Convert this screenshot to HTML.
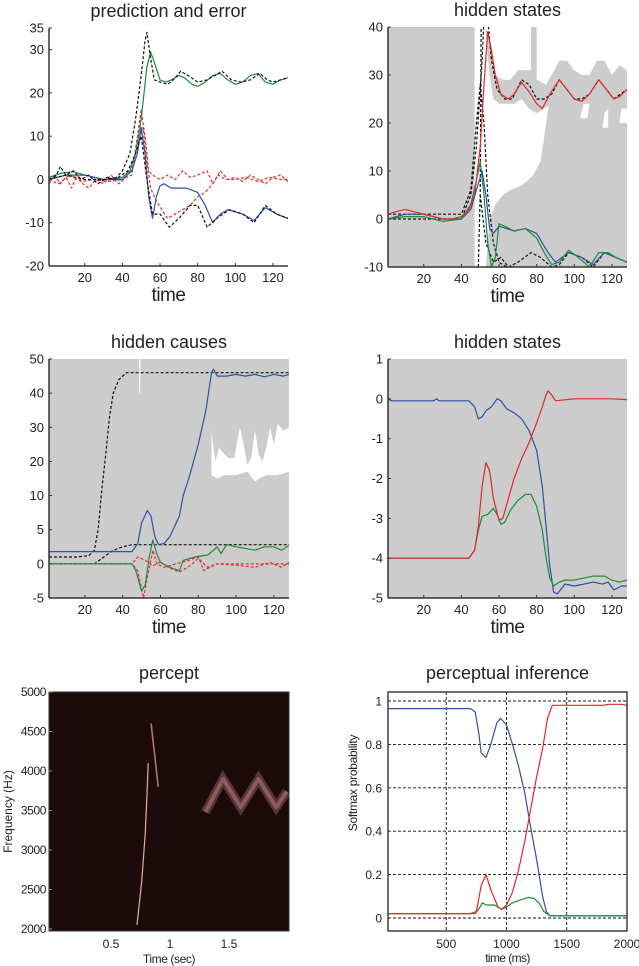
<!DOCTYPE html>
<html><head><meta charset="utf-8"><style>
body{margin:0;background:#fff;}
svg{display:block;font-family:"Liberation Sans",Arial,sans-serif;}
</style></head><body>
<svg id="fig" width="639" height="966" viewBox="0 0 639 966" xmlns="http://www.w3.org/2000/svg"></svg>
<script>
// ---------- Panel 1: prediction and error ----------
const p1Ticks=[-20,-10,0,10,20,30,35];
const p1Green=[[1,0.5],[8,1.5],[14,1.8],[20,1],[25,0.5],[30,0],[36,0],[40,0.5],[44,2],[47,6],[50,14],[52,22],[53,26],[55,29.5],[57,27],[60,23],[63,22.5],[66,23],[70,24],[73,23.5],[77,22],[80,21.5],[84,22.5],[88,24],[92,24.5],[96,23],[100,22],[104,22.5],[108,24],[112,24.5],[116,22.5],[120,22],[124,23],[128,23.5]];
const p1Blue=[[1,0],[10,1],[20,1],[30,0],[40,0],[45,2],[48,6],[50,12],[52,6],[54,-4],[56,-9],[58,-4],[60,-1.5],[62,-1],[66,-2],[74,-2],[80,-3],[84,-6],[88,-10],[92,-8],[96,-7],[100,-7.5],[104,-8],[110,-9.5],[116,-6.5],[122,-8],[128,-9]];
const p1BlackA=[[1,0],[5,1],[7,3],[10,1],[14,2],[18,0],[22,1],[27,-1],[32,0.5],[36,0],[40,2],[44,6],[47,14],[50,24],[52,32],[53,34],[55,28],[57,23],[60,22.5],[64,22],[67,23],[71,25],[75,24],[80,22.5],[85,23],[89,24],[93,25],[98,23],[103,22.5],[108,23],[113,24.5],[117,23],[120,22.5],[124,23],[128,23.5]];
const p1BlackB=[[1,0],[10,1],[20,0],[30,0],[38,0.5],[43,2],[47,6],[50,10],[53,0],[56,-8],[60,-8],[65,-11],[70,-9],[76,-6],[80,-6],[85,-11],[90,-9],[97,-7],[104,-8],[110,-10],[116,-6],[122,-8],[128,-9]];
const p1RedA=[[1,-1],[4,1],[7,-1],[10,0.5],[13,-2],[16,1],[19,-1],[22,-2],[26,0],[30,-1],[34,1],[38,-1],[42,0.5],[45,1],[48,10],[50,16],[52,10],[54,2],[56,1],[60,0],[64,1],[68,0],[72,2],[76,0.5],[80,1],[85,2],[88,-1],[92,2],[96,0],[100,0.5],[104,-0.5],[108,1],[112,0],[116,-1],[120,0.5],[124,1],[128,-0.5]];
const p1RedB=[[1,0],[6,-1],[12,1],[18,-0.5],[25,0],[32,-0.5],[40,0],[45,2],[48,8],[51,12],[53,4],[55,-2],[58,-5],[61,-7],[64,-9],[68,-8],[72,-7],[76,-6],[80,-4],[84,-3],[88,-1],[91,1],[95,0],[100,0],[106,0.5],[112,-0.5],[118,0.5],[124,0],[128,0]];

// ---------- Panel 2: hidden states (top) ----------
const p2Ticks=[-10,0,10,20,30,40];
const p2Red=[[1,1],[5,1.5],[10,2],[15,1.5],[20,1],[25,0.5],[30,0],[35,0],[40,0.5],[44,2],[47,5],[50,15],[52,28],[54,39],[56,35],[58,30],[61,26],[65,25],[68,26],[72,28.5],[76,26.5],[80,24],[83,23],[87,26],[92,29],[96,27],[100,25],[104,24.5],[108,26],[113,29],[117,27],[121,25],[124,25.5],[128,27]];
const p2Blue=[[1,0],[10,1],[20,1],[30,0],[40,0],[45,2],[48,6],[51,10],[53,5],[55,-2],[57,-3],[60,-1.5],[64,-2],[68,-2.5],[74,-2],[80,-3],[86,-7],[90,-9],[97,-7],[104,-8],[110,-9.5],[116,-7],[122,-8],[128,-9]];
const p2Green=[[1,0],[10,0.5],[20,0.5],[30,-0.5],[40,0],[45,3],[48,8],[50,12],[52,5],[54,-5],[56,-10],[58,-8],[60,-1],[63,-1.5],[68,-2.5],[74,-2],[80,-4],[84,-7],[88,-9.5],[92,-9],[97,-6.5],[102,-8],[108,-10],[113,-7],[118,-7],[122,-8],[128,-9]];
const p2BlackA=[[1,0],[10,0],[40,0],[45,5],[48,15],[50,27],[51,33],[52,42],[54,42],[56,33],[59,27],[63,25],[67,25],[72,29],[76,28],[80,25],[84,25],[88,26],[92,29],[96,27],[100,25],[104,25],[108,26],[113,29],[117,27],[121,25],[128,27]];
const p2BlackB=[[1,1],[40,1],[45,6],[48,20],[50,28],[52,20],[54,5],[57,-5],[60,-9],[64,-10],[68,-10]];
const p2BlackC=[[49,-10],[50,5],[50.5,42]];
const p2BlackD=[[50,5],[53,-5],[57,-9],[61,-8],[65,-10],[70,-9],[77,-7],[82,-8],[88,-10],[92,-9.5],[97,-7],[104,-8],[110,-10],[116,-7],[122,-8],[128,-9]];
const p2WhiteLow=[[47,-10],[53,-10],[55,0],[58,3],[62,5],[66,6],[72,7],[78,9],[82,12],[84,17],[86,23],[88,25],[128,25]];
const p2BandTop=[[53,40],[56,36],[58,30],[62,29],[66,29],[70,31],[74,31],[77,31],[80,29],[85,28],[88,30],[92,33],[96,33],[100,31],[104,30],[108,30],[112,33],[116,33],[120,30],[124,32],[128,31]];
const p2BandBot=[[53,38],[55,30],[57,25],[60,24],[64,24],[68,24],[72,25],[76,23],[80,22],[84,23],[88,24],[92,24],[96,24],[100,24],[104,24],[108,24],[112,22],[116,20],[120,19],[124,22],[128,23]];
const p2Pockets=[[[82,20],[84,23],[86,23],[85,20]],[[103,21],[105,24],[108,24],[107,21]],[[115,19],[116,22],[118,23],[118,19]],[[124,20],[125,23],[128,23],[128,20]]];

// ---------- Panel 3: hidden causes ----------
const p3TickVals=[-5,0,5,10,20,30,40,50];
const p3Black1=[[1,1],[15,1],[22,1.2],[25,2],[27,5],[29,12],[31,22],[33,33],[35,40],[38,44],[42,46],[128,46]];
const p3Black2=[[1,0],[25,0],[30,1],[35,2],[40,2.5],[45,2.8],[128,2.8]];
const p3Blue=[[1,1.8],[20,1.8],[45,1.8],[48,3],[50,6],[53,7.8],[55,7],[57,4],[59,2.8],[62,3],[65,4],[70,7],[72,10],[75,15],[80,25],[84,35],[87,46],[88,47],[90,45],[95,45],[100,45.5],[105,45],[110,45.5],[115,44.8],[120,45.5],[125,45],[128,45.5]];
const p3Green=[[1,0],[45,0],[47,-1],[50,-4],[52,-3],[54,1],[56,3.5],[58,1.5],[60,0.2],[65,-0.5],[70,-1],[72,0.5],[78,1],[85,1.3],[88,2],[90,2.5],[92,1.5],[95,2.8],[100,2.5],[110,2],[115,2.5],[120,2.5],[124,2],[128,2.7]];
const p3RedA=[[1,0],[45,0],[48,1],[52,0.5],[56,-0.3],[60,0.3],[64,-0.5],[70,-1.2],[75,-0.4],[80,0.8],[85,-0.5],[90,0],[100,-0.2],[110,-0.5],[118,0.2],[124,-0.5],[128,0.2]];
const p3RedB=[[1,0],[45,0],[48,-1],[51,-5],[53,-2],[56,2],[58,0],[62,-0.5],[68,0],[75,0.5],[80,1],[83,-1],[86,-0.5],[90,0],[128,0]];
const p3White=[[87,16],[87,29],[89,20],[91,24],[94,22],[96,21],[99,21],[102,30],[104,25],[106,19],[108,21],[110,29],[112,22],[114,20],[116,24],[118,30],[120,25],[122,31],[125,29],[128,30],[128,17],[122,16],[116,16],[112,15],[110,14],[106,17],[100,16],[94,16],[90,15],[87,16]];

// ---------- Panel 4: hidden states ----------
const p4Ticks=[-5,-4,-3,-2,-1,0,1];
const p4Blue=[[1,0],[3,-0.05],[25,-0.05],[27,0],[28,-0.05],[44,-0.05],[47,-0.2],[49,-0.5],[51,-0.45],[53,-0.3],[56,-0.2],[59,0],[61,-0.05],[64,-0.25],[68,-0.35],[72,-0.5],[76,-0.8],[80,-1.3],[83,-2.2],[85,-3.2],[87,-4.2],[89,-4.85],[91,-4.9],[95,-4.65],[100,-4.7],[105,-4.65],[110,-4.6],[115,-4.65],[118,-4.6],[121,-4.8],[125,-4.7],[128,-4.7]];
const p4Red=[[1,-4],[44,-4],[47,-3.8],[49,-3.2],[51,-2.2],[53,-1.6],[55,-1.8],[57,-2.5],[60,-3.05],[62,-3],[65,-2.5],[68,-2],[72,-1.5],[76,-1.1],[80,-0.6],[83,-0.2],[85,0.1],[86,0.2],[88,0.1],[90,-0.05],[100,0],[110,0],[120,0],[128,-0.02]];
const p4Green=[[1,-4],[44,-4],[47,-3.8],[49,-3.3],[51,-2.95],[54,-2.9],[57,-2.75],[59,-2.9],[61,-3.15],[63,-3.1],[66,-2.8],[70,-2.55],[74,-2.4],[77,-2.4],[80,-2.7],[83,-3.3],[85,-4],[87,-4.5],[89,-4.7],[92,-4.6],[95,-4.55],[100,-4.55],[105,-4.5],[110,-4.45],[116,-4.45],[120,-4.55],[124,-4.6],[128,-4.55]];

// ---------- Panel 5: percept ----------
const p5YTicks=[2000,2500,3000,3500,4000,4500,5000];
const p5XTicks=[0.5,1,1.5];
const p5Chirp1=[[0.72,2050],[0.76,2600],[0.79,3200],[0.805,3700],[0.815,4100]];
const p5Chirp2=[[0.84,4600],[0.87,4200],[0.9,3800]];
const p5Zigzag=[[1.3,3480],[1.45,3900],[1.6,3540],[1.75,3900],[1.9,3540],[1.99,3740]];

// ---------- Panel 6: perceptual inference ----------
const p6YTicks=[0,0.2,0.4,0.6,0.8,1];
const p6XTicks=[500,1000,1500,2000];
const p6Blue=[[10,0.965],[700,0.965],[740,0.95],[770,0.85],[790,0.76],[830,0.74],[870,0.8],[920,0.9],[950,0.92],[1000,0.89],[1050,0.8],[1100,0.7],[1150,0.58],[1200,0.42],[1250,0.27],[1300,0.1],[1330,0.03],[1360,0.01],[2000,0.01]];
const p6Red=[[10,0.02],[700,0.02],[750,0.03],[790,0.15],[830,0.2],[870,0.13],[930,0.05],[960,0.04],[1000,0.06],[1050,0.12],[1100,0.22],[1150,0.35],[1200,0.5],[1250,0.65],[1300,0.78],[1340,0.92],[1380,0.98],[1450,0.98],[1800,0.98],[1850,0.985],[1950,0.985],[2000,0.98]];
const p6Green=[[10,0.02],[740,0.02],[780,0.05],[800,0.07],[830,0.06],[900,0.06],[960,0.04],[1000,0.05],[1050,0.07],[1100,0.08],[1180,0.095],[1230,0.09],[1270,0.07],[1310,0.03],[1360,0.01],[2000,0.01]];

const timeTicks=[20,40,60,80,100,120];
const NS="http://www.w3.org/2000/svg";
const fig=document.getElementById('fig');
function el(tag,attrs,parent){const e=document.createElementNS(NS,tag);for(const k in attrs)e.setAttribute(k,attrs[k]);(parent||fig).appendChild(e);return e;}
function lin(d0,d1,r0,r1){return v=>r0+(v-d0)/(d1-d0)*(r1-r0);}
function pathD(data,sx,sy){return data.map((p,i)=>(i?'L':'M')+sx(p[0]).toFixed(1)+','+sy(p[1]).toFixed(1)).join('');}
function line(g,data,sx,sy,color,dash,name,w){
  const p=el('path',{d:pathD(data,sx,sy),fill:'none',stroke:color,'stroke-width':w||1.2,'stroke-dasharray':dash?'3,2':'none','stroke-linejoin':'round'},g);
  
  
  return p;
}
function poly(g,data,sx,sy,color,name){
  const p=el('path',{d:pathD(data,sx,sy)+'Z',fill:color,stroke:'none'},g);
  
  
}
function text(g,x,y,s,size,anchor,name,extra){
  const t=el('text',Object.assign({x:x,y:y,'font-size':size,'text-anchor':anchor||'middle',fill:'#222'},extra||{}),g);
  t.textContent=s;
  
  
  return t;
}
function group(name){const g=el('g',{});return g;}
function clip(id,x,y,w,h){const c=el('clipPath',{id:id});el('rect',{x:x,y:y,width:w,height:h},c);}

function timePanel(name,title,L,R,T,B,sy,ticks,tickLabels,bg){
  const g=group(name);
  const sx=lin(1,128,L,R);
  clip(name+'-clip',L,T,R-L,B-T);
  text(g,(L+R)/2,T-11,title,18,'middle',name+'-title');
  if(bg){const r=el('rect',{x:L,y:T,width:R-L,height:B-T,fill:bg},g);}
  const plot=el('g',{'clip-path':'url(#'+name+'-clip)'},g);
  
  
  el('line',{x1:L,y1:T,x2:L,y2:B,stroke:'#333','stroke-width':1.5},g);
  el('line',{x1:L,y1:B,x2:R,y2:B,stroke:'#333','stroke-width':1.5},g);
  ticks.forEach((v,i)=>{const y=sy(v);el('line',{x1:L,y1:y,x2:L+3,y2:y,stroke:'#333'},g);text(g,L-5,y+4.5,tickLabels[i],13,'end',name+'-y-tick');});
  timeTicks.forEach(v=>{const x=sx(v);el('line',{x1:x,y1:B,x2:x,y2:B-3,stroke:'#333'},g);text(g,x,B+16,String(v),13,'middle',name+'-x-tick');});
  text(g,(L+R)/2,B+35,'time',19,'middle',name+'-x-axis-title',{'letter-spacing':'-0.5'});
  return {g:plot,sx:sx};
}

// Panel 1
(function(){
  const sy=lin(-20,35,266,28);
  const P=timePanel('prediction-and-error','prediction and error',49,288,28,266,sy,p1Ticks,p1Ticks.map(String),null);
  line(P.g,p1RedA,P.sx,sy,'#e03030',true,'error-red-a');
  line(P.g,p1RedB,P.sx,sy,'#e03030',true,'error-red-b');
  line(P.g,p1Green,P.sx,sy,'#1f8a3c',false,'prediction-green');
  line(P.g,p1Blue,P.sx,sy,'#3050a8',false,'prediction-blue');
  line(P.g,p1BlackA,P.sx,sy,'#111',true,'target-black-a');
  line(P.g,p1BlackB,P.sx,sy,'#111',true,'target-black-b');
})();

// Panel 2
(function(){
  const sy=lin(-10,40,267,27);
  const P=timePanel('hidden-states-top','hidden states',388,627,27,267,sy,p2Ticks,p2Ticks.map(String),'#cccccc');
  const white=p2WhiteLow.concat([[128,40],[47,40]]);
  poly(P.g,white,P.sx,sy,'#ffffff','confidence-gap');
  poly(P.g,p2BandTop.concat(p2BandBot.slice().reverse()),P.sx,sy,'#cccccc','confidence-band');
  poly(P.g,[[77,40],[80,40],[80,28],[77,30]],P.sx,sy,'#cccccc','confidence-spike');
  p2Pockets.forEach(pk=>poly(P.g,pk,P.sx,sy,'#ffffff','confidence-pocket'));
  line(P.g,p2BlackA,P.sx,sy,'#111',true,'true-state-a');
  line(P.g,p2BlackB,P.sx,sy,'#111',true,'true-state-b');
  line(P.g,p2BlackC,P.sx,sy,'#111',true,'true-state-c');
  line(P.g,p2BlackD,P.sx,sy,'#111',true,'true-state-d');
  line(P.g,p2Blue,P.sx,sy,'#3050a8',false,'state-blue');
  line(P.g,p2Green,P.sx,sy,'#1f8a3c',false,'state-green');
  line(P.g,p2Red,P.sx,sy,'#e02828',false,'state-red');
})();

// Panel 3
(function(){
  const T=359,B=598,n=p3TickVals.length-1;
  const sy=v=>{let i=0;while(i<n-1&&v>p3TickVals[i+1])i++;const a=p3TickVals[i],b=p3TickVals[i+1];return B-(i+(v-a)/(b-a))*(B-T)/n;};
  const P=timePanel('hidden-causes','hidden causes',49,289,T,B,sy,p3TickVals,p3TickVals.map(String),'#cccccc');
  poly(P.g,[[48.6,50],[49.4,50],[49.2,40],[48.8,40]],P.sx,sy,'#ffffff','confidence-gap-line');
  poly(P.g,p3White,P.sx,sy,'#ffffff','confidence-gap');
  line(P.g,p3Black1,P.sx,sy,'#111',true,'true-cause-a');
  line(P.g,p3Black2,P.sx,sy,'#111',true,'true-cause-b');
  line(P.g,p3RedA,P.sx,sy,'#e03030',true,'cause-error-a');
  line(P.g,p3RedB,P.sx,sy,'#e03030',true,'cause-error-b');
  line(P.g,p3Green,P.sx,sy,'#1f8a3c',false,'cause-green');
  line(P.g,p3Blue,P.sx,sy,'#3050a8',false,'cause-blue');
})();

// Panel 4
(function(){
  const sy=lin(-5,1,598,359);
  const P=timePanel('hidden-states-bottom','hidden states',388,627,359,598,sy,p4Ticks,p4Ticks.map(String),'#cccccc');
  line(P.g,p4Blue,P.sx,sy,'#3050a8',false,'state-blue');
  line(P.g,p4Green,P.sx,sy,'#1f8a3c',false,'state-green');
  line(P.g,p4Red,P.sx,sy,'#e02828',false,'state-red');
})();

// Panel 5
(function(){
  const g=group('percept');
  const L=49,R=289,T=692,B=931;
  const sx=lin(0,2,52,288), sy=lin(2000,5000,929,692);
  clip('percept-clip',L,T,R-L,B-T);
  text(g,(L+R)/2,T-13,'percept',18,'middle','percept-title');
  const r=el('rect',{x:L,y:T,width:R-L,height:B-T,fill:'#1d0b0c',stroke:'#333'},g);
  
  const pg=el('g',{'clip-path':'url(#percept-clip)'},g);
  
  line(pg,p5Zigzag,sx,sy,'#5a3434',false,'warble-band',9).setAttribute('stroke-linejoin','miter');
  line(pg,p5Zigzag,sx,sy,'#8a5c5c',false,'warble-core',4);
  line(pg,p5Chirp1,sx,sy,'#d8b0a0',false,'chirp-rise',1.2);
  line(pg,p5Chirp2,sx,sy,'#a87878',false,'chirp-fall',1.6);
  p5YTicks.forEach(v=>{const y=sy(v);el('line',{x1:L,y1:y,x2:L+3,y2:y,stroke:'#888'},g);text(g,L-3,y+4,String(v),12,'end','percept-y-tick',{'letter-spacing':'-0.4'});});
  p5XTicks.forEach(v=>{const x=sx(v);text(g,x,B+17,String(v),12,'middle','percept-x-tick');});
  text(g,(L+R)/2,B+32,'Time (sec)',12,'middle','percept-x-axis-title',{'letter-spacing':'-0.4'});
  text(g,12,(T+B)/2,'Frequency (Hz)',12,'middle','percept-y-axis-title',{transform:'rotate(-90 12 '+((T+B)/2)+')'});
})();

// Panel 6
(function(){
  const g=group('perceptual-inference');
  const L=388,R=627,T=692,B=931;
  const sx=lin(0,2000,386,627), sy=lin(0,1,918,701);
  clip('pi-clip',L,T,R-L,B-T);
  text(g,(L+R)/2,T-13,'perceptual inference',18,'middle','perceptual-inference-title');
  const pg=el('g',{'clip-path':'url(#pi-clip)'},g);
  
  p6YTicks.forEach(v=>{const y=sy(v);el('line',{x1:L,y1:y,x2:R,y2:y,stroke:'#111','stroke-dasharray':'3,2','stroke-width':0.9},pg);text(g,L-6,y+4.5,String(v),12,'end','pi-y-tick');});
  p6XTicks.forEach(v=>{const x=sx(v);el('line',{x1:x,y1:T,x2:x,y2:B,stroke:'#111','stroke-dasharray':'3,2','stroke-width':0.9},pg);text(g,x,B+17,String(v),12,'middle','pi-x-tick');});
  line(pg,p6Blue,sx,sy,'#3050a8',false,'prob-blue');
  line(pg,p6Green,sx,sy,'#1f8a3c',false,'prob-green');
  line(pg,p6Red,sx,sy,'#e02828',false,'prob-red');
  const fr=el('rect',{x:L,y:T,width:R-L,height:B-T,fill:'none',stroke:'#222','stroke-width':1.3},g);
  
  text(g,(L+R)/2,B+31,'time (ms)',12,'middle','pi-x-axis-title',{'letter-spacing':'-0.6'});
  text(g,357,783,'Softmax probability',12,'middle','pi-y-axis-title',{transform:'rotate(-90 357 783)','letter-spacing':'-0.3'});
})();
</script>
</body></html>
